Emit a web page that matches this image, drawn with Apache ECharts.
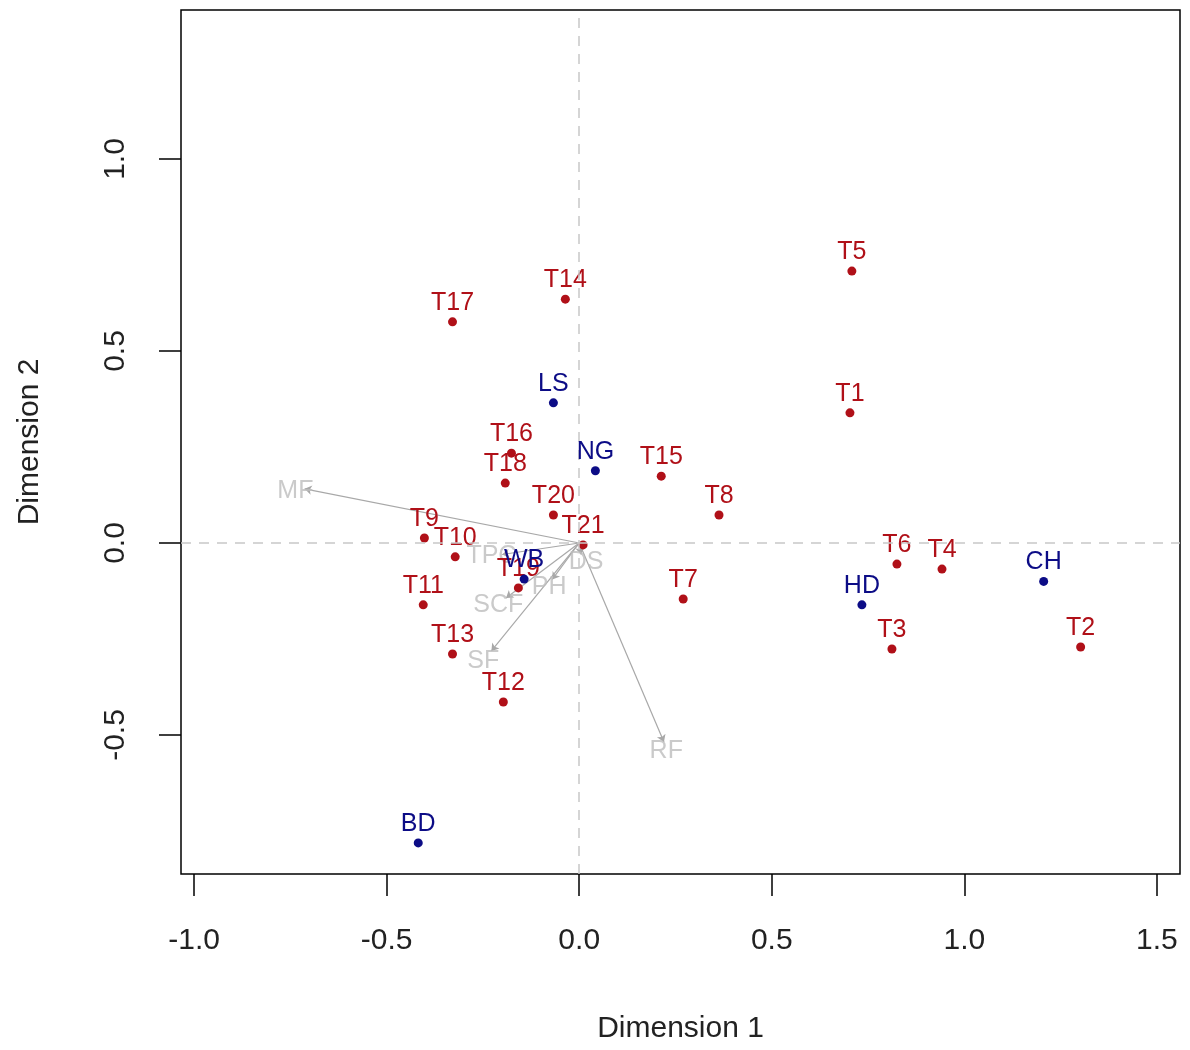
<!DOCTYPE html>
<html>
<head>
<meta charset="utf-8">
<script src="https://cdn.jsdelivr.net/npm/echarts@6/dist/echarts.min.js"></script>
<style>html,body{margin:0;padding:0;background:#fff}#c{width:1190px;height:1050px}</style>
</head>
<body>
<div id="c"></div>
<script>
var tNames = ['T1','T2','T3','T4','T5','T6','T7','T8','T9','T10','T11','T12','T13','T14','T15','T16','T17','T18','T19','T20','T21'];
var tX = [0.703,1.302,0.812,0.942,0.708,0.825,0.270,0.363,-0.402,-0.322,-0.405,-0.197,-0.329,-0.036,0.213,-0.176,-0.329,-0.192,-0.158,-0.067,0.010];
var tY = [0.339,-0.271,-0.276,-0.068,0.708,-0.055,-0.146,0.073,0.013,-0.036,-0.161,-0.414,-0.289,0.635,0.174,0.234,0.576,0.156,-0.117,0.073,-0.005];

var sNames = ['LS','NG','WB','HD','CH','BD'];
var sX = [-0.067,0.042,-0.143,0.734,1.206,-0.418];
var sY = [0.365,0.188,-0.094,-0.161,-0.100,-0.781];

var vNames = ['MF','RF','SF','SCF','PH','DS','TPC'];
var vTipX = [-0.713,0.220,-0.228,-0.190,-0.070,0.005,-0.200];
var vTipY = [0.141,-0.518,-0.281,-0.143,-0.095,-0.030,-0.030];
var vLabX = [-0.737,0.226,-0.249,-0.210,-0.078,0.018,-0.228];
var vLabY = [0.135,-0.542,-0.307,-0.161,-0.115,-0.049,-0.034];

var tickVals = [-1.0,-0.5,0.0,0.5,1.0,1.5];
var yTickVals = [-0.5,0.0,0.5,1.0];

var red = '#B01018', blue = '#0C0C86', grayTxt = '#BDBDBD';
var font = 'Liberation Sans';

function pts(names, xs, ys){ return names.map(function(n,i){ return {name:n, value:[xs[i], ys[i]]}; }); }

var chart = echarts.init(document.getElementById('c'));
chart.setOption({
  animation: false,
  backgroundColor: '#fff',
  grid: {left: 181, right: 10, top: 10, bottom: 176, show: true, borderColor: '#000', borderWidth: 1.5, backgroundColor: 'transparent'},
  xAxis: {
    type: 'value', min: -1.034, max: 1.56,
    splitLine: {show: false},
    axisLine: {show: false, onZero: false},
    axisTick: {show: true, length: 22, inside: false, customValues: tickVals, lineStyle: {color: '#000', width: 1.5}},
    axisLabel: {customValues: tickVals, margin: 52, fontSize: 30, color: '#222', fontFamily: font, formatter: function(v){ return v.toFixed(1); }},
    name: 'Dimension 1', nameLocation: 'middle', nameGap: 140,
    nameTextStyle: {fontSize: 30, color: '#222', fontFamily: font}
  },
  yAxis: {
    type: 'value', min: -0.862, max: 1.388,
    splitLine: {show: false},
    axisLine: {show: false, onZero: false},
    axisTick: {show: true, length: 22, customValues: yTickVals, lineStyle: {color: '#000', width: 1.5}},
    axisLabel: {customValues: yTickVals, rotate: 90, margin: 50, fontSize: 30, color: '#222', fontFamily: font, formatter: function(v){ return v.toFixed(1); }},
    name: 'Dimension 2', nameLocation: 'middle', nameGap: 136,
    nameTextStyle: {fontSize: 30, color: '#222', fontFamily: font}
  },
  series: [
    {
      type: 'scatter', symbolSize: 0, data: [[0,0]], silent: true, z: 1,
      markLine: {
        silent: true, symbol: 'none', animation: false,
        lineStyle: {color: '#C8C8C8', type: [10, 8], width: 1.5},
        label: {show: false},
        data: [{xAxis: 0}, {yAxis: 0}]
      }
    },
    {
      type: 'lines', coordinateSystem: 'cartesian2d', z: 2, silent: true,
      symbol: ['none', 'arrow'], symbolSize: 7,
      lineStyle: {color: '#A8A8A8', width: 1.2, opacity: 1},
      data: vNames.map(function(n,i){ return {coords: [[0,0],[vTipX[i], vTipY[i]]]}; })
    },
    {
      type: 'scatter', z: 3, symbolSize: 0, silent: true,
      data: pts(vNames, vLabX, vLabY),
      label: {show: true, position: 'inside', formatter: '{b}', color: grayTxt, fontSize: 25, fontFamily: font}
    },
    {
      type: 'scatter', z: 4, symbolSize: 9, itemStyle: {color: red, opacity: 1},
      data: pts(tNames, tX, tY),
      label: {show: true, position: 'top', distance: 2, formatter: '{b}', color: red, fontSize: 25, fontFamily: font}
    },
    {
      type: 'scatter', z: 5, symbolSize: 9, itemStyle: {color: blue, opacity: 1},
      data: pts(sNames, sX, sY),
      label: {show: true, position: 'top', distance: 2, formatter: '{b}', color: blue, fontSize: 25, fontFamily: font}
    }
  ]
});
</script>
</body>
</html>
